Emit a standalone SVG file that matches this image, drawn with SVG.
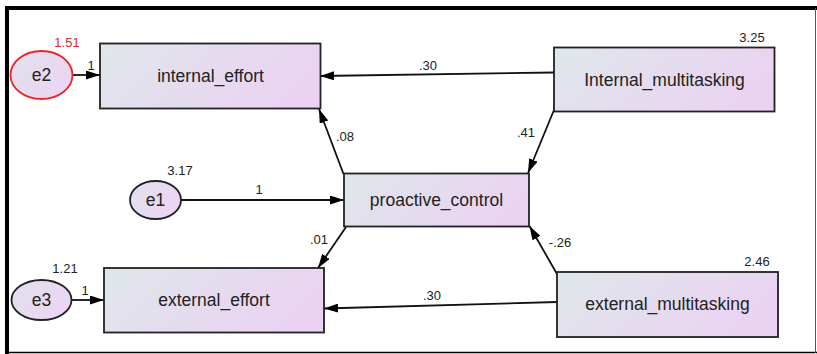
<svg xmlns="http://www.w3.org/2000/svg" width="817" height="354" viewBox="0 0 817 354">
<defs>
<linearGradient id="boxg" x1="0" y1="0" x2="1" y2="0.3">
<stop offset="0" stop-color="#dfe7ea"/>
<stop offset="1" stop-color="#ead3f2"/>
</linearGradient>
<linearGradient id="ellg" x1="0" y1="0" x2="1" y2="0.6">
<stop offset="0" stop-color="#e1e1ec"/>
<stop offset="1" stop-color="#ecd5f3"/>
</linearGradient>
<marker id="arr" viewBox="0 0 14 9" refX="14" refY="4.5" markerWidth="14" markerHeight="9" markerUnits="userSpaceOnUse" orient="auto">
<path d="M0,0 L14,4.5 L0,9 Z" fill="#000"/>
</marker>
<style>
.box{fill:url(#boxg);stroke:#222;stroke-width:1.8}
.ell{fill:url(#ellg);stroke:#222;stroke-width:1.8}
.lbl{font-family:"Liberation Sans",Arial,sans-serif;font-size:17.5px;fill:#222;text-anchor:middle}
.num{font-family:"Liberation Sans",Arial,sans-serif;font-size:13px;fill:#222;text-anchor:middle}
.con{stroke:#111;stroke-width:1.8;fill:none;marker-end:url(#arr)}
</style>
</defs>
<rect x="0" y="0" width="817" height="354" fill="#fff"/>
<g id="frame">
<line x1="5" y1="8" x2="817" y2="8" stroke="#000" stroke-width="4"/>
<line x1="7" y1="6" x2="7" y2="354" stroke="#000" stroke-width="4"/>
<line x1="5" y1="352.5" x2="817" y2="352.5" stroke="#000" stroke-width="1.5"/>
<line x1="815.5" y1="8" x2="815.5" y2="353" stroke="#555" stroke-width="1"/>
</g>
<g id="connectors">
<line class="con" x1="73" y1="75" x2="100" y2="75"/>
<line class="con" x1="72" y1="300" x2="104" y2="300"/>
<line class="con" x1="181" y1="200" x2="344" y2="200"/>
<line class="con" x1="554" y1="72.5" x2="320" y2="76"/>
<line class="con" x1="554" y1="110" x2="528" y2="173"/>
<line class="con" x1="343.5" y1="174" x2="319" y2="109"/>
<line class="con" x1="346" y1="227" x2="318" y2="268"/>
<line class="con" x1="557" y1="274" x2="529.5" y2="226"/>
<line class="con" x1="557" y1="302" x2="324" y2="308.5"/>
<text class="num" x="91" y="69.5">1</text>
<text class="num" x="85" y="294.5">1</text>
<text class="num" x="259" y="194">1</text>
<text class="num" x="428" y="70">.30</text>
<text class="num" x="526" y="137">.41</text>
<text class="num" x="345" y="141">.08</text>
<text class="num" x="319" y="244">.01</text>
<text class="num" x="560" y="247">-.26</text>
<text class="num" x="432" y="300">.30</text>
</g>
<g id="e2">
<ellipse class="ell" cx="41.5" cy="75" rx="31" ry="24" style="stroke:#e8262b"/>
<text class="lbl" x="41.5" y="81">e2</text>
<text class="num" x="67" y="47" style="fill:#e8262b">1.51</text>
</g>
<g id="internal_effort">
<rect class="box" x="100" y="43.5" width="220.5" height="65"/>
<text class="lbl" x="210.5" y="82">internal_effort</text>
</g>
<g id="Internal_multitasking">
<rect class="box" x="554" y="47.5" width="220.5" height="64"/>
<text class="lbl" x="664.5" y="86">Internal_multitasking</text>
<text class="num" x="752" y="42">3.25</text>
</g>
<g id="e1">
<ellipse class="ell" cx="155.5" cy="200" rx="25.5" ry="19"/>
<text class="lbl" x="155.5" y="206">e1</text>
<text class="num" x="180" y="175">3.17</text>
</g>
<g id="proactive_control">
<rect class="box" x="344" y="173.5" width="185" height="53"/>
<text class="lbl" x="436.5" y="206">proactive_control</text>
</g>
<g id="e3">
<ellipse class="ell" cx="41.5" cy="300" rx="30" ry="20"/>
<text class="lbl" x="41.5" y="306">e3</text>
<text class="num" x="65" y="273">1.21</text>
</g>
<g id="external_effort">
<rect class="box" x="104" y="268" width="220" height="64.5"/>
<text class="lbl" x="214" y="306">external_effort</text>
</g>
<g id="external_multitasking">
<rect class="box" x="557" y="272" width="221" height="65"/>
<text class="lbl" x="667.5" y="310">external_multitasking</text>
<text class="num" x="757" y="266">2.46</text>
</g>
</svg>
